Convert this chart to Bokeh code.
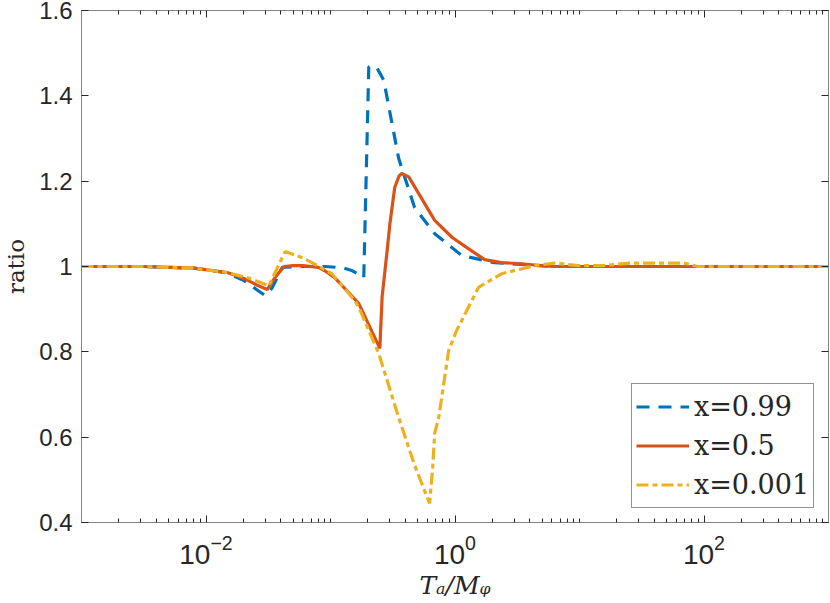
from bokeh.plotting import figure
from bokeh.models import FixedTicker, LogAxis, LinearAxis, CustomJSTickFormatter, Legend, LegendItem
from bokeh.embed import file_html
from bokeh.resources import INLINE

# x = 0.99 (blue dashed)
x_099 = [0.001, 0.00316, 0.008, 0.0148, 0.0202, 0.0298, 0.034, 0.0409, 0.0592, 0.0902,
         0.125, 0.15, 0.185, 0.203, 0.225, 0.236, 0.268, 0.353, 0.474, 0.687, 1.13,
         2.07, 3.42, 5.9, 10.0, 100.0, 1000.0]
y_099 = [1.0, 1.0, 0.996, 0.985, 0.967, 0.932, 0.95, 0.998, 1.0, 1.0,
         0.997, 0.99, 0.974, 1.468, 1.47, 1.466, 1.436, 1.253, 1.138, 1.077, 1.026,
         1.009, 1.005, 1.0, 1.0, 1.0, 1.0]

# x = 0.5 (orange solid)
x_05 = [0.001, 0.00316, 0.008, 0.0148, 0.0202, 0.025, 0.031, 0.036, 0.0424, 0.05, 0.06,
        0.08, 0.09, 0.108, 0.169, 0.249, 0.26, 0.285, 0.30, 0.328, 0.355, 0.373, 0.425,
        0.687, 0.95, 1.28, 1.73, 2.36, 3.2, 6.0, 10.0, 100.0, 1000.0]
y_05 = [1.0, 1.0, 0.996, 0.986, 0.972, 0.958, 0.946, 0.975, 1.0, 1.002, 1.002,
        0.998, 0.99, 0.974, 0.913, 0.808, 0.93, 1.037, 1.10, 1.185, 1.212, 1.218, 1.21,
        1.108, 1.068, 1.042, 1.016, 1.009, 1.007, 1.0, 1.0, 1.0, 1.0]

# x = 0.001 (yellow dash-dot)
x_0001 = [0.001, 0.00316, 0.008, 0.0148, 0.022, 0.032, 0.0432, 0.06, 0.071, 0.1026,
          0.157, 0.169, 0.244, 0.353, 0.474, 0.625, 0.662, 0.687, 0.74, 0.889, 1.03,
          1.545, 2.36, 4.35, 6.28, 9.77, 14.96, 26.0, 69.0, 89.5, 100.0, 1000.0]
y_0001 = [1.0, 1.0, 0.996, 0.986, 0.973, 0.955, 1.035, 1.02, 1.009, 0.983,
          0.92, 0.904, 0.796, 0.646, 0.534, 0.445, 0.529, 0.609, 0.646, 0.803, 0.85,
          0.951, 0.983, 1.002, 1.008, 1.002, 1.002, 1.008, 1.008, 1.0, 1.0, 1.0]

y_ticks = [0.4, 0.6, 0.8, 1.0, 1.2, 1.4, 1.6]
x_major = [1e-2, 1e0, 1e2]
labels = ["x=0.99", "x=0.5", "x=0.001"]

minor = [m * 10.0 ** e for e in range(-3, 3) for m in range(1, 10)] + [1e3]
minor = [t for t in minor if t not in x_major]

TEXT = "#262626"
AX = "#858585"

p = figure(width=830, height=603, x_axis_type="log", x_range=(1e-3, 1e3), y_range=(0.4, 1.6),
           output_backend="svg", toolbar_location=None,
           min_border_left=79, min_border_top=10, min_border_right=2, min_border_bottom=81)
p.xgrid.visible = False
p.ygrid.visible = False
p.outline_line_color = AX
p.outline_line_width = 1
p.background_fill_color = "white"

colors = ["#0072BD", "#D95319", "#EDB120"]
r1 = p.line(x_099, y_099, line_color=colors[0], line_width=3.2, line_dash="13 9")
r2 = p.line(x_05, y_05, line_color=colors[1], line_width=3.2)
r3 = p.line(x_0001, y_0001, line_color=colors[2], line_width=3.2, line_dash="12 4 5 4")

xt = FixedTicker(ticks=x_major, minor_ticks=minor)
yt = FixedTicker(ticks=y_ticks, minor_ticks=[])
yfmt = CustomJSTickFormatter(code="return (Math.round(tick*10)/10).toString();")

def style(ax):
    ax.axis_line_color = AX
    ax.axis_line_width = 1
    ax.major_tick_line_color = TEXT
    ax.minor_tick_line_color = TEXT
    ax.major_tick_in = 7
    ax.major_tick_out = 0
    ax.minor_tick_in = 4
    ax.minor_tick_out = 0
    ax.major_label_text_color = TEXT
    ax.major_label_text_font = "Liberation Sans"
    ax.major_label_text_font_size = "24px"

xa = p.xaxis[0]
xa.ticker = xt
style(xa)
xa.major_label_text_font_size = "28px"
xa.major_label_standoff = 12
xa.axis_label = "Tₐ/Mᵩ"
xa.axis_label_text_font = "DejaVu Serif"
xa.axis_label_text_font_style = "italic"
xa.axis_label_text_font_size = "25px"
xa.axis_label_text_color = TEXT
xa.axis_label_standoff = 4

ya = p.yaxis[0]
ya.ticker = yt
ya.formatter = yfmt
style(ya)
ya.major_label_standoff = 9
ya.axis_label = "ratio"
ya.axis_label_text_font = "DejaVu Serif"
ya.axis_label_text_font_style = "normal"
ya.axis_label_text_font_size = "23px"
ya.axis_label_text_color = TEXT
ya.axis_label_standoff = 7

top = LogAxis(ticker=FixedTicker(ticks=x_major, minor_ticks=minor))
style(top)
top.major_label_text_font_size = "1px"
top.major_label_text_alpha = 0
top.major_label_standoff = 0
p.add_layout(top, "above")

right = LinearAxis(ticker=FixedTicker(ticks=y_ticks, minor_ticks=[]))
style(right)
right.major_label_text_font_size = "1px"
right.major_label_text_alpha = 0
right.major_label_standoff = 0
p.add_layout(right, "right")

legend = Legend(items=[LegendItem(label=labels[0], renderers=[r1]),
                       LegendItem(label=labels[1], renderers=[r2]),
                       LegendItem(label=labels[2], renderers=[r3])],
                location=(550, 14), margin=0, padding=4, spacing=2,
                glyph_width=53, glyph_height=37, label_standoff=5, label_height=37,
                label_text_font="DejaVu Serif", label_text_font_size="27px",
                label_text_color=TEXT, border_line_color=TEXT, border_line_width=1,
                background_fill_color="white", background_fill_alpha=1.0)
p.add_layout(legend, "center")

open("out.html", "w").write(file_html(p, INLINE))
